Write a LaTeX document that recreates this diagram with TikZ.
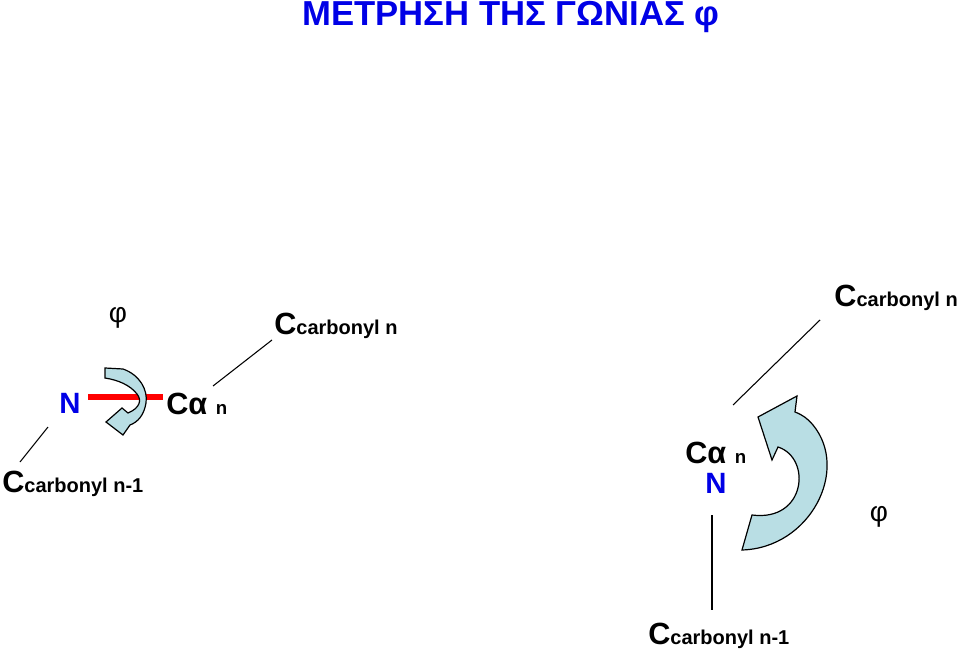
\documentclass[tikz,border=0pt]{standalone}
\usepackage{fontspec}
\setmainfont{Liberation Sans}
\begin{document}
\begin{tikzpicture}[x=0.75pt,y=-0.75pt,
  big/.style={font=\fontsize{22}{24}\selectfont\bfseries},
  lbl/.style={inner sep=0pt},
  thin/.style={draw=black,line width=0.8pt},
  arr/.style={draw=black,line width=0.9pt,fill=arrfill}]
\definecolor{arrfill}{RGB}{185,222,228}
\definecolor{tblue}{RGB}{0,0,230}
\useasboundingbox (0,0) rectangle (960,656);
\node[lbl,text=tblue,font=\fontsize{26}{28}\selectfont\bfseries] (title) at (511,17) {ΜΕΤΡΗΣΗ ΤΗΣ ΓΩΝΙΑΣ φ};
% left
\node[lbl,font=\fontsize{21}{22}\selectfont] (phi1) at (118,318) {φ};
\node[lbl,anchor=west] (cc1) at (274,326) {\fontsize{23}{24}\selectfont\bfseries C\fontsize{15}{16}\selectfont carbonyl n};
\node[lbl,anchor=west] (cl1) at (2,484) {\fontsize{23}{24}\selectfont\bfseries C\fontsize{15}{16}\selectfont carbonyl n-1};
\node[lbl,text=tblue,big] (N1) at (70,403) {N};
\node[lbl,anchor=west] (ca1) at (166,404) {\fontsize{23}{24}\selectfont\bfseries Cα \fontsize{14}{16}\selectfont n};
\coordinate (r1) at (88,397); \coordinate (r2) at (163,397);
\draw[red,line width=4.5pt] (r1) -- (r2);
\coordinate (l1a) at (213,386); \coordinate (l1b) at (272,340);
\draw[thin] (l1a) -- (l1b);
\coordinate (l2a) at (20,462); \coordinate (l2b) at (48,427);
\draw[thin] (l2a) -- (l2b);
\path[arr] (105,368) -- (123,369) .. controls (140,375) and (148,390) .. (146,403)
  .. controls (144,415) and (138,422) .. (130,425) -- (123,435) -- (106,422) -- (122,408) -- (128,413)
  .. controls (140,408) and (142,400) .. (137,394) .. controls (130,385) and (118,380) .. (105,378) -- cycle;
% right
\node[lbl,anchor=east] (cc2) at (958,298) {\fontsize{23}{24}\selectfont\bfseries C\fontsize{15}{16}\selectfont carbonyl n};
\node[lbl,anchor=west] (ca2) at (685,453) {\fontsize{23}{24}\selectfont\bfseries Cα \fontsize{14}{16}\selectfont n};
\node[lbl,text=tblue,big] (N2) at (716,483) {N};
\node[lbl,font=\fontsize{21}{22}\selectfont] (phi2) at (879,517) {φ};
\node[lbl,anchor=west] (cl2) at (648,636) {\fontsize{23}{24}\selectfont\bfseries C\fontsize{15}{16}\selectfont carbonyl n-1};
\coordinate (l3a) at (733,405); \coordinate (l3b) at (820,320);
\draw[thin] (l3a) -- (l3b);
\coordinate (l4a) at (712,515); \coordinate (l4b) at (712,610);
\draw[thin] (l4a) -- (l4b);
\path[arr] (742,550) .. controls (810,548) and (850,470) .. (813,425) .. controls (808,419) and (803,415) .. (795,412)
  -- (797,396) -- (758,417) -- (772,460) -- (778,447)
  .. controls (812,458) and (806,522) .. (752,515) -- cycle;
\end{tikzpicture}
\end{document}
